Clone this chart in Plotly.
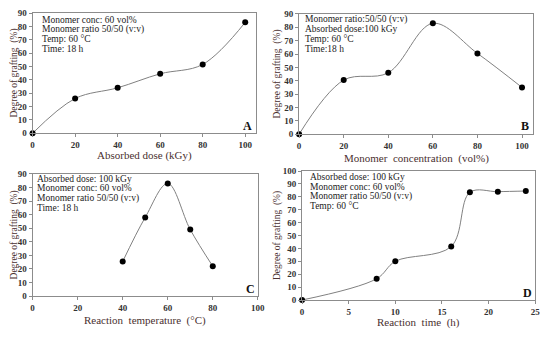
import plotly.graph_objects as go

# ---------------- data ----------------
a_x = [0, 20, 40, 60, 80, 100]
a_y = [0, 26, 34, 44.5, 51.5, 83]
b_x = [0, 20, 40, 60, 80, 100]
b_y = [0, 40.5, 46, 83, 60.5, 35]
c_x = [40, 50, 60, 70, 80]
c_y = [25.5, 58, 83, 49, 22]
d_x = [0, 8, 10, 16, 18, 21, 24]
d_y = [0, 16.5, 30, 41.5, 83.5, 84, 84.5]

a_notes = ["Monomer conc: 60 vol%", "Monomer ratio 50/50 (v:v)", "Temp: 60 °C", "Time: 18 h"]
b_notes = ["Monomer ratio:50/50 (v:v)", "Absorbed dose:100 kGy", "Temp: 60 °C", "Time:18 h"]
c_notes = ["Absorbed dose: 100 kGy", "Monomer conc: 60 vol%", "Monomer ratio 50/50 (v:v)", "Time: 18 h"]
d_notes = ["Absorbed dose: 100 kGy", "Monomer conc: 60 vol%", "Monomer ratio 50/50 (v:v)", "Temp: 60 °C"]

x_titles = ["Absorbed dose (kGy)", "Monomer  concentration  (vol%)",
            "Reaction  temperature  (°C)", "Reaction  time  (h)"]
y_title = "Degree of grafting  (%)"
letters = ["A", "B", "C", "D"]

# page body has an 8px margin, so the figure is drawn 8px in from the top-left
OFF = 8
W, H = 550 - OFF, 337 - OFF
SERIF = "Liberation Serif"

def px(x):
    return (x - OFF) / W

def py(y):
    return 1 - (y - OFF) / H

panels = [
    dict(x=a_x, y=a_y, box=(31, 258, 8, 132), xr=[0, 105], xt=20, yr=[0, 90], yt=10,
         notes=a_notes, nx=39, ny=[15, 25, 35, 45], lx=250, ly=125,
         ytx=12.5, xty=155),
    dict(x=b_x, y=b_y, box=(302, 540, 9, 133), xr=[0, 105], xt=20, yr=[0, 90], yt=10,
         notes=b_notes, nx=306, ny=[15, 25, 35, 45], lx=532, ly=125,
         ytx=280, xty=158),
    dict(x=c_x, y=c_y, box=(31, 260, 174, 300), xr=[0, 100], xt=20, yr=[0, 90], yt=10,
         notes=c_notes, nx=33, ny=[179, 189, 199, 209], lx=253, ly=293,
         ytx=12.5, xty=325),
    dict(x=d_x, y=d_y, box=(305, 542, 171, 304), xr=[0, 25], xt=5, yr=[0, 100], yt=10,
         notes=d_notes, nx=311, ny=[177, 187, 197, 207], lx=534, ly=297,
         ytx=280, xty=327),
]

fig = go.Figure()
annotations = []
layout_axes = {}

for i, p in enumerate(panels):
    n = i + 1
    xa = "x" if n == 1 else f"x{n}"
    ya = "y" if n == 1 else f"y{n}"
    x0, x1, y0, y1 = p["box"]
    fig.add_trace(go.Scatter(
        x=p["x"], y=p["y"], xaxis=xa, yaxis=ya, mode="lines+markers",
        line=dict(color="#808080", width=1, shape="spline", smoothing=1.0),
        marker=dict(color="black", size=6), showlegend=False, cliponaxis=False))
    axis_common = dict(showline=True, mirror=True, linecolor="#8c8c8c", linewidth=1,
                       showgrid=False, zeroline=False, ticks="outside", ticklen=3,
                       tickcolor="#8c8c8c",
                       tickfont=dict(family=SERIF, size=9, color="#333333", weight="bold"))
    layout_axes["xaxis" if n == 1 else f"xaxis{n}"] = dict(
        axis_common, domain=[px(x0), px(x1)], range=p["xr"], dtick=p["xt"],
        tick0=0, anchor=ya)
    layout_axes["yaxis" if n == 1 else f"yaxis{n}"] = dict(
        axis_common, domain=[py(y1), py(y0)], range=p["yr"], dtick=p["yt"],
        tick0=0, anchor=xa)
    for t, yy in zip(p["notes"], p["ny"]):
        annotations.append(dict(text=t, x=px(p["nx"]), y=py(yy), xref="paper", yref="paper",
                                xanchor="left", yanchor="middle", showarrow=False,
                                font=dict(family=SERIF, size=9.5, color="#222222")))
    annotations.append(dict(text=f"<b>{letters[i]}</b>", x=px(p["lx"]), y=py(p["ly"]),
                            xref="paper", yref="paper", xanchor="center", yanchor="middle",
                            showarrow=False, font=dict(family=SERIF, size=12, color="#111111")))
    annotations.append(dict(text=x_titles[i], x=px((x0 + x1) / 2), y=py(p["xty"]),
                            xref="paper", yref="paper", xanchor="center", yanchor="middle",
                            showarrow=False, font=dict(family=SERIF, size=11, color="#4a3030")))
    annotations.append(dict(text=y_title, x=px(p["ytx"]), y=py((y0 + y1) / 2), textangle=-90,
                            xref="paper", yref="paper", xanchor="center", yanchor="middle",
                            showarrow=False, font=dict(family=SERIF, size=9.5, color="#4a3030")))

fig.update_layout(width=W, height=H, margin=dict(l=0, r=0, t=0, b=0),
                  paper_bgcolor="white", plot_bgcolor="white",
                  annotations=annotations, **layout_axes)

fig.write_html("out.html")
